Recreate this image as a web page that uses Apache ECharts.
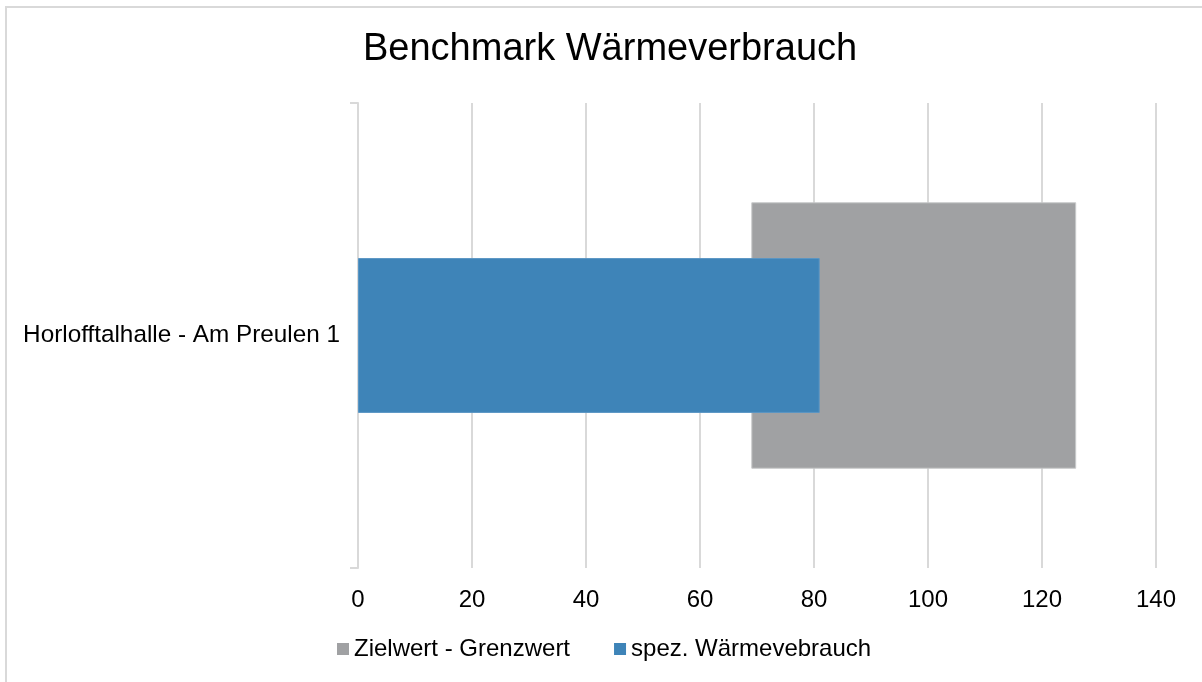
<!DOCTYPE html>
<html>
<head>
<meta charset="utf-8">
<title>Benchmark Wärmeverbrauch</title>
<script src="https://cdn.jsdelivr.net/npm/echarts@6/dist/echarts.min.js"></script>
<style>
  html, body { margin: 0; padding: 0; background: #fff; }
  #chart { width: 1202px; height: 682px; }
</style>
</head>
<body>
<div id="chart"></div>
<script>
// data
const categories = ['Horlofftalhalle - Am Preulen 1'];
const zielwert = [69];          // start of grey range
const grenzwert = [126];        // end of grey range
const verbrauch = [81];         // spez. Wärmeverbrauch
const xTicks = [0, 20, 40, 60, 80, 100, 120, 140];

const rangeLength = grenzwert.map((g, i) => g - zielwert[i]);

const font = '"Liberation Sans", Arial, sans-serif';
const lineGrey = '#d9d9d9';

const chart = echarts.init(document.getElementById('chart'));

const option = {
    backgroundColor: '#fff',
    animation: false,
    textStyle: { fontFamily: font },
    graphic: [
        {
            type: 'rect',
            shape: { x: 6, y: 7, width: 1400, height: 900 },
            style: { fill: 'none', stroke: lineGrey, lineWidth: 2 },
            silent: true
        }
    ],
    title: {
        text: 'Benchmark Wärmeverbrauch',
        left: 363,
        top: 31,
        padding: 0,
        textStyle: {
            fontFamily: font,
            fontSize: 38,
            fontWeight: 'normal',
            color: '#000'
        }
    },
    legend: {
        left: 337,
        top: 637,
        padding: 0,
        itemWidth: 12,
        itemHeight: 12,
        itemGap: 44,
        icon: 'rect',
        itemStyle: { borderWidth: 0 },
        data: ['Zielwert - Grenzwert', 'spez. Wärmevebrauch'],
        textStyle: { fontFamily: font, fontSize: 24, color: '#000' }
    },
    grid: {
        left: 358,
        right: 46,
        top: 103,
        bottom: 114,
        containLabel: false
    },
    xAxis: {
        type: 'value',
        min: xTicks[0],
        max: xTicks[xTicks.length - 1],
        interval: 20,
        axisLine: { show: false },
        axisTick: { show: false },
        axisLabel: {
            margin: 20,
            fontFamily: font,
            fontSize: 24,
            color: '#000'
        },
        splitLine: {
            lineStyle: { color: lineGrey, width: 2 }
        }
    },
    yAxis: [
        {
            type: 'category',
            data: categories,
            axisLine: { show: true, lineStyle: { color: lineGrey, width: 2 } },
            axisTick: { show: true, length: 8, lineStyle: { color: lineGrey, width: 2 } },
            axisLabel: {
                margin: 18,
                fontFamily: font,
                fontSize: 24.3,
                color: '#000'
            },
            splitLine: { show: false }
        },
        {
            type: 'category',
            data: categories,
            show: false
        }
    ],
    series: [
        {
            name: 'base',
            type: 'bar',
            stack: 'range',
            yAxisIndex: 0,
            barWidth: '57.3%',
            data: zielwert,
            itemStyle: { color: 'rgba(0,0,0,0)' },
            silent: true
        },
        {
            name: 'Zielwert - Grenzwert',
            type: 'bar',
            stack: 'range',
            yAxisIndex: 0,
            barWidth: '57.3%',
            data: rangeLength,
            itemStyle: { color: '#a0a1a3', borderColor: '#c8c9ca', borderWidth: 1 }
        },
        {
            name: 'spez. Wärmevebrauch',
            type: 'bar',
            yAxisIndex: 1,
            barWidth: '33.3%',
            data: verbrauch,
            itemStyle: { color: '#3e84b8', borderColor: '#5a96c4', borderWidth: 1 }
        }
    ]
};

chart.setOption(option);
</script>
</body>
</html>
